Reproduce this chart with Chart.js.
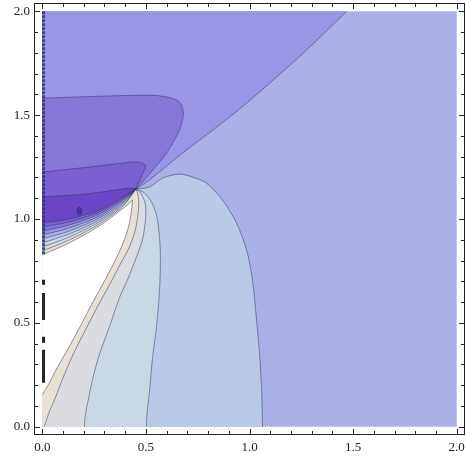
<!DOCTYPE html>
<html><head><meta charset="utf-8">
<script src="https://cdn.jsdelivr.net/npm/chart.js"></script>
<style>html,body{margin:0;padding:0;background:#fff}canvas{display:block}</style>
</head><body>
<canvas id="c" width="466" height="458"></canvas>
<script>
// ---- tick labels ----
const xTickLabels = [0, 0.5, 1, 1.5, 2];
const yTickLabels = [0, 0.5, 1, 1.5, 2];
const minorTicks = [0.1,0.2,0.3,0.4,0.6,0.7,0.8,0.9,1.1,1.2,1.3,1.4,1.6,1.7,1.8,1.9];

// ---- contour curves (x, y) ----
const plotBox = [[0,0],[2,0],[2,2],[0,2],[0,0]];
const diagonal = [[1.469,2.0],[1.275,1.813],[1.130,1.683],[0.986,1.558],[0.841,1.442],[0.676,1.317],[0.517,1.188],[0.452,1.145]];
const bTop = [[0,1.582],[0.275,1.591],[0.517,1.596],[0.604,1.587],[0.662,1.563],[0.681,1.514],[0.667,1.442],[0.638,1.380],[0.594,1.308],[0.541,1.245],[0.493,1.188],[0.452,1.145]];
const cTop = [[0,1.226],[0.227,1.250],[0.386,1.269],[0.469,1.274],[0.498,1.255],[0.483,1.216],[0.464,1.173],[0.452,1.145]];
const dTop = [[0,1.106],[0.203,1.120],[0.348,1.139],[0.420,1.149],[0.452,1.145]];
const u12 = [[0,0.981],[0.130,1.000],[0.275,1.043],[0.372,1.096],[0.411,1.120],[0.452,1.145]];
const u23 = [[0,0.962],[0.130,0.986],[0.275,1.034],[0.372,1.089],[0.411,1.115],[0.452,1.145]];
const u34 = [[0,0.942],[0.130,0.971],[0.275,1.024],[0.372,1.082],[0.411,1.111],[0.452,1.145]];
const u45 = [[0,0.923],[0.130,0.957],[0.275,1.014],[0.372,1.075],[0.411,1.106],[0.452,1.145]];
const u56 = [[0,0.904],[0.130,0.942],[0.275,1.005],[0.372,1.067],[0.411,1.101],[0.452,1.145]];
const u67 = [[0,0.885],[0.130,0.928],[0.275,0.995],[0.372,1.060],[0.411,1.096],[0.452,1.145]];
const u78 = [[0,0.865],[0.130,0.913],[0.275,0.986],[0.372,1.053],[0.411,1.091],[0.452,1.145]];
const u89 = [[0,0.846],[0.130,0.899],[0.275,0.976],[0.372,1.046],[0.411,1.087],[0.452,1.145]];
const uTopWhite = [[0,0.827],[0.130,0.885],[0.275,0.966],[0.372,1.038],[0.411,1.068],[0.435,1.091]];
const r6 = [[0.452,1.145],[0.517,1.154],[0.580,1.197],[0.662,1.216],[0.725,1.202],[0.792,1.173],[0.870,1.091],[0.937,0.981],[0.986,0.851],[1.014,0.707],[1.034,0.514],[1.048,0.356],[1.058,0.192],[1.063,0]];
const r7 = [[0.452,1.145],[0.493,1.125],[0.527,1.082],[0.551,1.019],[0.565,0.923],[0.570,0.803],[0.565,0.644],[0.551,0.481],[0.531,0.322],[0.517,0.163],[0.507,0.082],[0.502,0]];
const r8 = [[0.452,1.145],[0.478,1.120],[0.498,1.067],[0.498,0.995],[0.483,0.899],[0.449,0.803],[0.411,0.707],[0.372,0.620],[0.324,0.481],[0.275,0.346],[0.242,0.226],[0.222,0.130],[0.208,0.058],[0.203,0]];
const r9 = [[0.452,1.145],[0.464,1.106],[0.464,1.043],[0.449,0.947],[0.420,0.865],[0.382,0.793],[0.324,0.683],[0.266,0.577],[0.208,0.466],[0.155,0.361],[0.106,0.250],[0.063,0.139],[0.034,0.072],[0.010,0]];
const rWhite = [[0.435,1.091],[0.430,1.034],[0.415,0.957],[0.386,0.875],[0.348,0.793],[0.290,0.683],[0.232,0.577],[0.174,0.466],[0.121,0.370],[0.072,0.284],[0.029,0.202],[0,0.154]];
const minDot = [[0.167,1.038],[0.170,1.052],[0.179,1.057],[0.188,1.052],[0.191,1.038],[0.188,1.024],[0.179,1.019],[0.170,1.024],[0.167,1.038]];
const edgeMarksTop = [[0.006,2.0],[0.006,0.83]];
const edgeMarksLow = [[0.006,0.707],[0.006,0.683],null,[0.006,0.644],[0.006,0.514],null,[0.006,0.433],[0.006,0.404],null,[0.006,0.370],[0.006,0.212]];

// ---- colours ----
const COL = {
  L5:'#AAB0E6', A:'#9B95E8', B:'#8576D8', C:'#7B60D0', D:'#6B47C6', dot:'#4A3493',
  L6:'#B9C9E7', L7:'#CAD8E4', L8:'#DBDCDF', L9:'#E7E0D3', W:'#FFFFFF'
};
const LINE = 'rgba(45,45,95,0.5)';

const onEdge = p => p[0]===0 || p[1]===0 || p[0]===2 || p[1]===2;
function poly(...parts){
  const out = [];
  [].concat(...parts).forEach(p => { out.push({x:p[0], y:p[1]}); if (onEdge(p)) out.push({x:p[0], y:p[1]}); });
  return out;
}
const rev = a => a.slice().reverse();
const toPts = a => a.map(p => p ? {x:p[0], y:p[1]} : {x:0.006, y:null});

const regions = [
  [poly(plotBox), COL.L5],
  [poly([[0,2]], diagonal, rev(u45), [[0,2]]), COL.A],
  [poly(bTop, rev(u34), [bTop[0]]), COL.B],
  [poly(cTop, rev(u23), [cTop[0]]), COL.C],
  [poly(dTop, rev(u12), [dTop[0]]), COL.D],
  [poly(minDot), COL.dot],
  [poly(u56, r6, [[0,0]], [u56[0]]), COL.L6],
  [poly(u67, r7, [[0,0]], [u67[0]]), COL.L7],
  [poly(u78, r8, [[0,0]], [u78[0]]), COL.L8],
  [poly(u89, r9, [[0,0]], [u89[0]]), COL.L9],
  [poly(uTopWhite, rWhite, [uTopWhite[0]]), COL.W]
];
const contourLines = [diagonal, bTop, cTop, dTop, u12, u23, u34, u45, u56, u67, u78, u89, uTopWhite, r6, r7, r8, r9, rWhite, minDot];

const datasets = regions.map((r, i) => ({
  data: r[0], backgroundColor: r[1], borderColor: 'rgba(0,0,0,0)',
  borderWidth: 0, fill: 'shape', showLine: true, pointRadius: 0, tension: 0.3,
  order: 100 - i
}));
contourLines.forEach(c => datasets.push({
  data: toPts(c), borderColor: LINE, borderWidth: 1, fill: false, showLine: true,
  pointRadius: 0, tension: 0.3, order: 10
}));
datasets.push({data: toPts(edgeMarksTop), borderColor:'rgba(50,48,115,0.85)', borderWidth:3, borderDash:[3,1], showLine:true, pointRadius:0, fill:false, order:2});
datasets.push({data: toPts(edgeMarksLow), borderColor:'rgba(10,10,20,0.9)', borderWidth:3, showLine:true, pointRadius:0, fill:false, spanGaps:false, order:1});

const frame = {
  id: 'frame',
  afterDraw(chart){
    const {ctx, chartArea: a, scales: {x, y}} = chart;
    ctx.save();
    ctx.strokeStyle = '#222'; ctx.lineWidth = 1;
    ctx.strokeRect(a.left + 0.5, a.top + 0.5, a.right - a.left - 1, a.bottom - a.top - 1);
    ctx.beginPath();
    const tx = (v, len) => { const p = Math.round(x.getPixelForValue(v)) + 0.5;
      ctx.moveTo(p, a.bottom); ctx.lineTo(p, a.bottom - len); ctx.moveTo(p, a.top); ctx.lineTo(p, a.top + len); };
    const ty = (v, len) => { const p = Math.round(y.getPixelForValue(v)) + 0.5;
      ctx.moveTo(a.left, p); ctx.lineTo(a.left + len, p); ctx.moveTo(a.right, p); ctx.lineTo(a.right - len, p); };
    xTickLabels.forEach(v => tx(v, 6)); minorTicks.forEach(v => tx(v, 4));
    yTickLabels.forEach(v => ty(v, 6)); minorTicks.forEach(v => ty(v, 4));
    ctx.stroke();
    ctx.restore();
  }
};

const tickFont = {family: "'Liberation Serif', 'DejaVu Serif', serif", size: 13};
new Chart(document.getElementById('c'), {
  type: 'scatter',
  data: { datasets },
  options: {
    responsive: false, animation: false, events: [],
    layout: { padding: { top: 3, right: 1, left: 0, bottom: 0 } },
    plugins: { legend: {display:false}, tooltip: {enabled:false} },
    scales: {
      x: { type:'linear', min:-0.04, max:2.04, grid:{display:false, drawTicks:false}, border:{display:false},
           afterBuildTicks: s => { s.ticks = xTickLabels.map(v => ({value:v})); },
           afterFit: s => { s.height = 23; s.paddingLeft = 0; s.paddingRight = 0; },
           ticks: { callback: v => Number(v).toFixed(1), font: tickFont, color:'#222', padding:5, maxRotation:0, autoSkip:false } },
      y: { type:'linear', min:-0.04, max:2.04, grid:{display:false, drawTicks:false}, border:{display:false},
           afterBuildTicks: s => { s.ticks = yTickLabels.map(v => ({value:v})); },
           afterFit: s => { s.width = 34; s.paddingTop = 0; s.paddingBottom = 0; },
           ticks: { callback: v => Number(v).toFixed(1), font: tickFont, color:'#222', padding:4, autoSkip:false } }
    }
  },
  plugins: [frame]
});
</script>
</body></html>
